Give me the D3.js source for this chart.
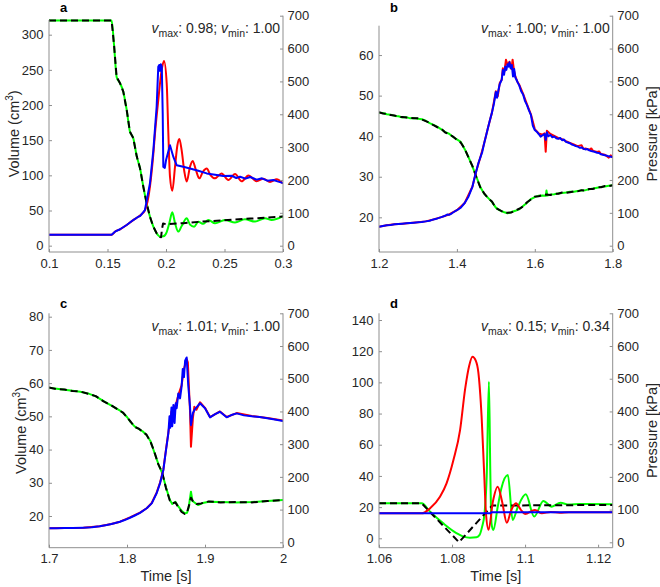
<!DOCTYPE html>
<html><head><meta charset="utf-8">
<script src="https://cdn.jsdelivr.net/npm/d3@7"></script>
<style>
body{margin:0;background:#fff}
svg{display:block;font-family:"Liberation Sans",Arial,Helvetica,sans-serif}
</style></head><body>
<svg id="chart" width="660" height="587"></svg>
<script>
// ---------------- DATA ----------------
const xTicksA = [0.1, 0.15, 0.2, 0.25, 0.3];
const xLabelsA = ['0.1', '0.15', '0.2', '0.25', '0.3'];
const xTicksB = [1.2, 1.4, 1.6, 1.8];
const xLabelsB = ['1.2', '1.4', '1.6', '1.8'];
const xTicksC = [1.7, 1.8, 1.9, 2.0];
const xLabelsC = ['1.7', '1.8', '1.9', '2'];
const xTicksD = [1.06, 1.08, 1.1, 1.12];
const xLabelsD = ['1.06', '1.08', '1.1', '1.12'];
const volTicksA = [0, 50, 100, 150, 200, 250, 300];
const volTicksB = [20, 30, 40, 50, 60];
const volTicksC = [20, 30, 40, 50, 60, 70, 80];
const volTicksD = [0, 20, 40, 60, 80, 100, 120, 140];
const pressureTicks = [0, 100, 200, 300, 400, 500, 600, 700];
const panelLetters = ['a', 'b', 'c', 'd'];
const vMax = ['0.98', '1.00', '1.01', '0.15'];
const vMin = ['1.00', '1.00', '1.00', '0.34'];
const volumeTitle = 'Volume (cm';
const pressureTitle = 'Pressure [kPa]';
const timeTitle = 'Time [s]';

// panel a: [time s, value]
const aGreen = [[0.1,320],[0.1535,320],[0.1556,285],[0.1578,240],[0.1607,231],[0.1635,219],[0.1664,193],[0.1692,162],[0.172,153],[0.175,127],[0.1778,110],[0.1806,84],[0.1835,60],[0.1863,41],[0.1892,27],[0.192,17.6],[0.1949,12.8],[0.1977,13.3],[0.2006,19.4],[0.2028,31.8],[0.2054,47.5],[0.2077,32],[0.2105,20],[0.2134,28],[0.2177,39],[0.2205,30],[0.224,27],[0.2276,34],[0.2319,31],[0.2362,36.5],[0.2419,31.8],[0.2504,36.5],[0.259,33],[0.2675,37.5],[0.2761,34.2],[0.2846,38.9],[0.2903,36.5],[0.3,42]];
const aBlack = [[0.1,320],[0.1535,320],[0.1556,285],[0.1578,240],[0.1607,231],[0.1635,219],[0.1664,193],[0.1692,162],[0.172,153],[0.175,127],[0.1778,110],[0.1806,84],[0.1835,60],[0.1863,41],[0.1892,27],[0.192,17.6],[0.1949,12.5],[0.1958,12],[0.1966,24],[0.1975,31.5],[0.2,30.5],[0.215,32],[0.229,34],[0.2435,35.5],[0.258,37],[0.272,38.5],[0.286,40],[0.3,41.5]];
const aRed = [[0.1,33.5],[0.1535,33.5],[0.1564,42.6],[0.1607,50],[0.1664,63],[0.172,78],[0.1763,88],[0.1778,92],[0.182,108],[0.1863,180],[0.1892,280],[0.1906,342],[0.1934,443],[0.1963,535],[0.1983,562],[0.2006,494],[0.202,342],[0.2034,210],[0.2054,167],[0.2077,240],[0.2097,305],[0.2114,325],[0.2134,290],[0.2157,225],[0.2177,195],[0.2205,240],[0.2228,258],[0.2254,232],[0.2285,205],[0.2315,225],[0.2348,235],[0.238,215],[0.2419,205],[0.2475,220],[0.2533,200],[0.259,218],[0.2647,196],[0.2704,214],[0.2775,196],[0.2832,204],[0.2889,194],[0.2946,202],[0.3,189]];
const aBlue = [[0.1,33.5],[0.1535,33.5],[0.1564,42.6],[0.1607,50],[0.1664,63],[0.172,78],[0.1763,88],[0.1778,90],[0.182,108.6],[0.1863,190],[0.1892,291],[0.192,423],[0.1934,545],[0.1942,550],[0.1949,532],[0.1956,552],[0.1964,545],[0.1972,400],[0.1977,240],[0.199,237],[0.2,260],[0.2034,306],[0.2063,270],[0.2091,245],[0.2148,240],[0.2205,235],[0.2276,228],[0.2348,220],[0.242,216],[0.249,212],[0.256,213],[0.26,206],[0.2633,210],[0.268,204],[0.272,209],[0.2775,201],[0.282,205],[0.2865,198],[0.2918,200],[0.296,195],[0.3,191]];

// panel b
const bGreen = [[1.2,45.8],[1.21,45.7],[1.22,45.4],[1.23,45.3],[1.24,45.0],[1.25,44.9],[1.26,44.6],[1.27,44.7],[1.28,44.4],[1.29,44.5],[1.30,44.3],[1.31,44.2],[1.32,43.8],[1.33,43.2],[1.34,42.8],[1.35,42.3],[1.36,41.7],[1.37,41.0],[1.38,40.6],[1.39,39.8],[1.40,39.2],[1.41,38.6],[1.42,36.8],[1.43,34.8],[1.44,32.5],[1.45,30.0],[1.46,27.5],[1.47,25.8],[1.48,24.8],[1.49,23.8],[1.50,22.4],[1.51,21.7],[1.52,21.3],[1.53,21.0],[1.54,21.3],[1.55,21.6],[1.56,22.0],[1.57,22.8],[1.58,23.6],[1.59,24.5],[1.60,25.0],[1.61,25.3],[1.62,25.4],[1.628,25.3],[1.63,26.6],[1.632,25.4],[1.64,25.6],[1.65,25.7],[1.66,25.9],[1.67,26.0],[1.68,26.1],[1.69,26.3],[1.70,26.3],[1.71,26.5],[1.72,26.6],[1.73,26.7],[1.74,26.9],[1.75,27.1],[1.76,27.3],[1.77,27.5],[1.78,27.6],[1.79,27.8],[1.80,27.9]];
const bBlack = [[1.2,45.9],[1.21,45.6],[1.22,45.5],[1.23,45.2],[1.24,45.1],[1.25,44.8],[1.26,44.7],[1.27,44.6],[1.28,44.5],[1.29,44.4],[1.30,44.4],[1.31,44.1],[1.32,43.7],[1.33,43.3],[1.34,42.7],[1.35,42.2],[1.36,41.8],[1.37,40.9],[1.38,40.5],[1.39,39.9],[1.40,39.1],[1.41,38.4],[1.42,36.9],[1.43,34.7],[1.44,32.6],[1.45,29.9],[1.46,27.4],[1.47,25.9],[1.48,24.7],[1.49,23.9],[1.50,22.3],[1.51,21.8],[1.52,21.2],[1.53,21.1],[1.54,21.2],[1.55,21.7],[1.56,22.1],[1.57,22.7],[1.58,23.7],[1.59,24.4],[1.60,25.1],[1.61,25.2],[1.62,25.5],[1.63,25.6],[1.64,25.5],[1.65,25.8],[1.66,25.8],[1.67,26.1],[1.68,26.0],[1.69,26.2],[1.70,26.4],[1.71,26.4],[1.72,26.7],[1.73,26.6],[1.74,27.0],[1.75,27.0],[1.76,27.4],[1.77,27.4],[1.78,27.7],[1.79,27.7],[1.80,27.9]];
const bRed = [[1.2,57.8],[1.22,62],[1.24,65],[1.26,67],[1.28,69],[1.30,71],[1.32,74],[1.34,80],[1.36,87],[1.38,95],[1.40,108],[1.42,130],[1.44,180],[1.45,228],[1.46,268],[1.47,312],[1.48,360],[1.49,405],[1.50,470],[1.505,455],[1.51,495],[1.515,505],[1.518,540],[1.522,530],[1.526,566],[1.53,550],[1.535,560],[1.54,538],[1.543,566],[1.547,530],[1.55,515],[1.555,500],[1.56,490],[1.57,462],[1.58,430],[1.59,400],[1.60,355],[1.61,342],[1.62,338],[1.625,342],[1.628,286],[1.631,350],[1.64,340],[1.65,334],[1.66,328],[1.67,324],[1.68,318],[1.69,313],[1.70,308],[1.71,303],[1.72,306],[1.725,294],[1.73,296],[1.74,292],[1.745,296],[1.75,288],[1.76,285],[1.765,287],[1.77,279],[1.78,277],[1.79,268],[1.795,275],[1.80,268]];
const bBlue = [[1.2,57.8],[1.21,60],[1.22,62],[1.23,63],[1.24,65],[1.25,66],[1.26,67],[1.27,68],[1.28,69],[1.29,70],[1.30,71],[1.31,72],[1.32,74],[1.33,76],[1.34,80],[1.35,83],[1.36,87],[1.37,91],[1.375,95],[1.38,94],[1.385,97],[1.39,101],[1.40,108],[1.41,116],[1.42,130],[1.43,150],[1.44,180],[1.445,205],[1.45,228],[1.455,251],[1.46,268],[1.465,285],[1.47,312],[1.475,335],[1.48,360],[1.485,383],[1.49,405],[1.495,432],[1.50,468],[1.503,450],[1.506,470],[1.51,492],[1.515,505],[1.518,535],[1.521,520],[1.524,545],[1.527,535],[1.53,552],[1.533,545],[1.535,558],[1.538,540],[1.541,550],[1.544,515],[1.547,538],[1.55,512],[1.553,505],[1.556,497],[1.56,488],[1.565,470],[1.57,460],[1.575,440],[1.58,428],[1.585,412],[1.59,398],[1.595,365],[1.60,352],[1.605,347],[1.61,340],[1.615,332],[1.62,336],[1.625,340],[1.628,322],[1.631,345],[1.635,333],[1.64,337],[1.645,330],[1.65,332],[1.655,327],[1.66,325],[1.665,328],[1.67,321],[1.675,323],[1.68,316],[1.685,314],[1.69,312],[1.695,308],[1.70,306],[1.705,303],[1.71,302],[1.715,298],[1.72,299],[1.725,295],[1.73,293],[1.735,294],[1.74,290],[1.745,288],[1.75,287],[1.755,285],[1.76,283],[1.765,282],[1.77,278],[1.775,277],[1.78,275],[1.785,274],[1.79,272],[1.795,271],[1.80,270]];

// panel c
const cGreen = [[1.7,58.6],[1.71,58.3],[1.72,58.0],[1.73,57.7],[1.74,57.4],[1.75,56.9],[1.76,56.0],[1.77,54.6],[1.78,53.2],[1.79,51.9],[1.795,51.0],[1.80,49.8],[1.805,48.2],[1.81,46.9],[1.815,46.2],[1.82,45.5],[1.825,44.4],[1.83,42.6],[1.835,39.2],[1.84,35.8],[1.845,33.0],[1.85,28.6],[1.855,24.8],[1.858,23.6],[1.862,24.3],[1.866,22.8],[1.87,21.6],[1.874,20.8],[1.877,21.0],[1.879,22.5],[1.882,27.3],[1.884,24.5],[1.887,24.0],[1.891,23.3],[1.897,23.9],[1.905,24.3],[1.92,24.2],[1.94,24.1],[1.96,24.2],[1.98,24.5],[2.0,24.8]];
const cBlack = [[1.7,58.7],[1.71,58.2],[1.72,58.1],[1.73,57.6],[1.74,57.5],[1.75,56.8],[1.76,56.1],[1.77,54.5],[1.78,53.3],[1.79,51.8],[1.795,51.1],[1.80,49.7],[1.805,48.3],[1.81,46.8],[1.815,46.3],[1.82,45.4],[1.825,44.5],[1.83,42.4],[1.835,39.4],[1.84,35.6],[1.845,33.2],[1.85,28.4],[1.855,24.6],[1.858,23.8],[1.862,24.1],[1.866,22.6],[1.87,21.2],[1.874,20.6],[1.877,21.2],[1.88,23.5],[1.882,25.5],[1.885,24.2],[1.889,23.6],[1.895,23.8],[1.905,24.4],[1.92,24.1],[1.94,24.2],[1.96,24.1],[1.98,24.5],[2.0,24.8]];
const cRed = [[1.7,42.8],[1.72,43.5],[1.744,44.8],[1.765,49],[1.78,56],[1.791,63],[1.8038,76],[1.8167,91],[1.8253,104],[1.8317,120],[1.838,152],[1.8423,182],[1.8466,222],[1.85,284],[1.853,335],[1.857,400],[1.8625,420],[1.8658,450],[1.87,480],[1.873,530],[1.8765,560],[1.878,550],[1.8808,400],[1.882,292],[1.8845,380],[1.8863,414],[1.889,405],[1.8936,428],[1.9,411],[1.9064,383],[1.9192,400],[1.9278,383],[1.9406,395],[1.96,386],[1.98,380],[2.0,372]];
const cBlue = [[1.7,42.8],[1.71,43],[1.72,43.5],[1.73,44],[1.744,44.8],[1.755,46],[1.765,49],[1.774,53],[1.78,56],[1.785,59],[1.791,63],[1.797,68],[1.8038,75],[1.81,82],[1.8167,90],[1.8253,104],[1.8317,119],[1.838,150],[1.8423,180],[1.8466,221],[1.85,282],[1.853,333],[1.8545,385],[1.8555,350],[1.857,412],[1.858,355],[1.8595,420],[1.861,365],[1.8625,425],[1.8637,410],[1.8658,455],[1.868,440],[1.87,476],[1.8715,530],[1.873,505],[1.8745,555],[1.8765,565],[1.8785,480],[1.8808,414],[1.882,358],[1.8845,395],[1.8875,408],[1.8936,425],[1.9,410],[1.9064,382],[1.913,392],[1.9192,399],[1.9278,382],[1.935,390],[1.9406,394],[1.95,388],[1.96,385],[1.97,383],[1.98,379],[1.9876,376],[2.0,371]];

// panel d
const dGreen = [[1.06,22.4],[1.0717,22.4],[1.074,17],[1.0776,9.6],[1.0813,3.2],[1.0831,1.1],[1.0849,0.4],[1.0867,0.6],[1.0875,2],[1.0882,7],[1.0889,16],[1.0895,40],[1.0901,100.4],[1.0905,40],[1.0908,9.6],[1.0913,5.3],[1.0925,20],[1.0935,32],[1.0953,40.6],[1.0966,11.7],[1.098,20],[1.1002,28.2],[1.1025,13.9],[1.105,24],[1.1073,20.3],[1.1097,22.8],[1.112,21.6],[1.115,22],[1.124,21.8]];
const dBlack = [[1.06,22.4],[1.0717,22.4],[1.0819,-2.5],[1.091,21.0],[1.124,21.4]];
const dRed = [[1.06,88.6],[1.0717,88.6],[1.074,104],[1.0767,139],[1.0785,180],[1.0804,252],[1.0822,343],[1.0836,470],[1.0847,540],[1.0856,567],[1.0865,555],[1.0872,520],[1.0881,384],[1.0888,211],[1.0893,88],[1.09,38],[1.0912,125],[1.0925,170],[1.0937,125],[1.095,60],[1.0962,98],[1.0975,119],[1.0988,100],[1.1,86.5],[1.1027,99],[1.1046,88.6],[1.107,93],[1.1095,90.5],[1.112,92],[1.124,91.7]];
const dBlue = [[1.06,88.6],[1.0905,88.6],[1.0907,91.7],[1.124,91.7]];

// ---------------- LAYOUT ----------------
const AXIS = '#8f8f8f', TXT = '#262626';
const svg = d3.select('#chart');

const panels = [
  {i:0, L:49, R:283, T:15.7, B:252, leftTop:20, xDom:[0.1,0.3], xT:xTicksA, xL:xLabelsA,
   yLDom:[-9,327], yLT:volTicksA, yRDom:[-19.2,700],
   s:{green:aGreen, black:aBlack, red:aRed, blue:aBlue}, smooth:{green:true, red:true, blue:false},
   volX:18.5, presX:null, time:false, letterY:12.2},
  {i:1, L:379, R:612.7, T:15.7, B:252, leftTop:25.7, xDom:[1.2,1.8], xT:xTicksB, xL:xLabelsB,
   yLDom:[11.45,69.7], yLT:volTicksB, yRDom:[-19.2,700],
   s:{green:bGreen, black:bBlack, red:bRed, blue:bBlue}, smooth:{},
   volX:null, presX:657, time:false, letterY:12.2},
  {i:2, L:49, R:283, T:313.3, B:547.7, leftTop:313.3, xDom:[1.7,2.0], xT:xTicksC, xL:xLabelsC,
   yLDom:[10.46,81.02], yLT:volTicksC, yRDom:[-16.5,700],
   s:{green:cGreen, black:cBlack, red:cRed, blue:cBlue}, smooth:{},
   volX:26, presX:null, time:true, letterY:307.5},
  {i:3, L:379, R:612.7, T:313.3, B:547.7, leftTop:313.3, xDom:[1.06,1.124], xT:xTicksD, xL:xLabelsD,
   yLDom:[-6.03,144.3], yLT:volTicksD, yRDom:[-16.5,700],
   s:{green:dGreen, black:dBlack, red:dRed, blue:dBlue}, smooth:{green:true, red:true},
   volX:null, presX:657, time:true, letterY:307.5}
];

function styleAxis(g){
  g.select('.domain').remove();
  g.selectAll('.tick line').attr('stroke', AXIS);
  g.selectAll('.tick text').attr('fill', TXT).attr('font-size', 13)
    .attr('font-family','"Liberation Sans",Arial,Helvetica,sans-serif');
}

panels.forEach(p => {
  const x = d3.scaleLinear().domain(p.xDom).range([p.L, p.R]);
  const yL = d3.scaleLinear().domain(p.yLDom).range([p.B, p.T]);
  const yR = d3.scaleLinear().domain(p.yRDom).range([p.B, p.T]);
  const g = svg.append('g');
  const cid = 'clip' + p.i;
  svg.append('clipPath').attr('id', cid).append('rect')
    .attr('x', p.L).attr('y', p.T - 3).attr('width', p.R - p.L).attr('height', p.B - p.T + 3);

  const lg = g.append('g').attr('clip-path', `url(#${cid})`).attr('fill', 'none')
    .attr('stroke-linejoin', 'round');
  const line = (sc, smooth) => d3.line().x(d => x(d[0])).y(d => sc(d[1]))
    .curve(smooth ? d3.curveMonotoneX : d3.curveLinear);

  lg.append('path').attr('d', line(yL, p.smooth.green)(p.s.green))
    .attr('stroke', '#00ff00').attr('stroke-width', 2);
  lg.append('path').attr('d', line(yL, false)(p.s.black))
    .attr('stroke', '#000').attr('stroke-width', 2).attr('stroke-dasharray', '7,4');
  lg.append('path').attr('d', line(yR, p.smooth.red)(p.s.red))
    .attr('stroke', '#ff0000').attr('stroke-width', 2);
  lg.append('path').attr('d', line(yR, p.smooth.blue)(p.s.blue))
    .attr('stroke', '#0000ff').attr('stroke-width', 2);

  // axes
  g.append('g').attr('transform', `translate(0,${p.B})`)
    .call(d3.axisBottom(x).tickValues(p.xT).tickFormat((d, i) => p.xL[i]).tickSize(-3).tickPadding(6.5))
    .call(styleAxis);
  g.append('g').attr('transform', `translate(${p.L},0)`)
    .call(d3.axisLeft(yL).tickValues(p.yLT).tickFormat(d => String(d)).tickSize(-3).tickPadding(5.5))
    .call(styleAxis);
  g.append('g').attr('transform', `translate(${p.R},0)`)
    .call(d3.axisRight(yR).tickValues(pressureTicks).tickFormat(d => String(d)).tickSize(-3).tickPadding(4.5))
    .call(styleAxis);

  const ax = g.append('g').attr('stroke', AXIS).attr('stroke-width', 1);
  ax.append('line').attr('x1', p.L).attr('x2', p.R).attr('y1', p.B).attr('y2', p.B);
  ax.append('line').attr('x1', p.L).attr('x2', p.L).attr('y1', p.leftTop).attr('y2', p.B);
  ax.append('line').attr('x1', p.R).attr('x2', p.R).attr('y1', p.T).attr('y2', p.B);

  // panel letter
  g.append('text').attr('x', p.L + 11).attr('y', p.letterY).attr('font-weight', 'bold')
    .attr('font-size', 13).attr('fill', '#000').text(panelLetters[p.i]);

  // annotation
  const t = g.append('text').attr('x', p.R - 3).attr('y', p.T + 17.5)
    .attr('text-anchor', 'end').attr('font-size', 14).attr('fill', TXT);
  t.append('tspan').attr('font-style', 'italic').text('v');
  t.append('tspan').attr('font-size', 10.5).attr('dy', 4).text('max');
  t.append('tspan').attr('dy', -4).text(': ' + vMax[p.i] + '; ');
  t.append('tspan').attr('font-style', 'italic').text('v');
  t.append('tspan').attr('font-size', 10.5).attr('dy', 4).text('min');
  t.append('tspan').attr('dy', -4).text(': ' + vMin[p.i]);

  const cy = (p.T + p.B) / 2;
  if (p.volX !== null) {
    const vt = g.append('text').attr('transform', `translate(${p.volX},${cy}) rotate(-90)`)
      .attr('text-anchor', 'middle').attr('font-size', 14.5).attr('fill', TXT);
    vt.append('tspan').text(volumeTitle);
    vt.append('tspan').attr('font-size', 10).attr('dy', -6).text('3');
    vt.append('tspan').attr('dy', 6).text(')');
  }
  if (p.presX !== null) {
    g.append('text').attr('transform', `translate(${p.presX},${cy}) rotate(-90)`)
      .attr('text-anchor', 'middle').attr('font-size', 14.5).attr('fill', TXT).text(pressureTitle);
  }
  if (p.time) {
    g.append('text').attr('x', (p.L + p.R) / 2).attr('y', 581)
      .attr('text-anchor', 'middle').attr('font-size', 14.5).attr('fill', TXT).text(timeTitle);
  }
});
</script>
</body></html>
